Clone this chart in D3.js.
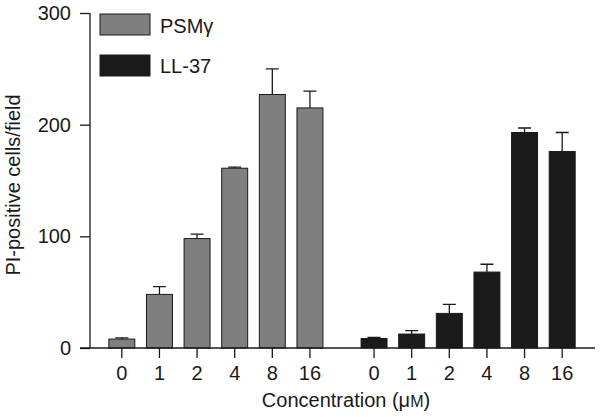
<!DOCTYPE html>
<meta charset="utf-8">
<html>
<head>
    <script src="https://cdn.jsdelivr.net/npm/d3@7"></script>
    <style>
        body { margin: 0; background: #fff; }
        text { font-family: "Liberation Sans", Arial, sans-serif; fill: #1a1a1a; }
    </style>
</head>
<body>
<div id="chart"></div>
<script>
    // data
    var concentrations = ["0", "1", "2", "4", "8", "16"];
    var peptides = ["PSMγ", "LL-37"];
    var psmMean = [8, 48, 98, 161, 227, 215];
    var psmErr = [1, 7, 4, 1, 23, 15];
    var llMean = [8.5, 12.5, 31, 68, 193, 176];
    var llErr = [1, 3, 8, 7, 4, 17];
    var yTicks = [0, 100, 200, 300];

    var colors = { "PSMγ": "#7f7f7f", "LL-37": "#1a1a1a" };
    var series = [
        { name: "PSMγ", mean: psmMean, err: psmErr },
        { name: "LL-37", mean: llMean, err: llErr }
    ];

    var width = 600, height = 417;
    var fontSize = 20;

    var svg = d3.select("#chart").append("svg")
        .attr("width", width)
        .attr("height", height);

    var y = d3.scaleLinear().domain([0, 300]).range([348, 13]);

    var x0 = d3.scaleBand().domain(peptides)
        .range([103, 581])
        .paddingInner(0.105);

    var x1 = d3.scaleBand().domain(concentrations)
        .range([0, x0.bandwidth()])
        .paddingInner(0.31)
        .paddingOuter(0.155);

    // bars + error bars
    series.forEach(function (s) {
        var g = svg.append("g")
            .attr("transform", "translate(" + x0(s.name) + ",0)");

        var rows = concentrations.map(function (c, i) {
            return { c: c, v: s.mean[i], e: s.err[i] };
        });

        // error bars (upper only)
        g.selectAll(".err")
            .data(rows)
            .enter().append("path")
            .attr("class", "err")
            .attr("fill", "none")
            .attr("stroke", "#1a1a1a")
            .attr("stroke-width", 1.3)
            .attr("d", function (d) {
                var cx = x1(d.c) + x1.bandwidth() / 2;
                var top = y(d.v + d.e);
                return "M" + cx + "," + y(d.v) + "V" + top +
                    "M" + (cx - 6.5) + "," + top + "H" + (cx + 6.5);
            });

        g.selectAll("rect")
            .data(rows)
            .enter().append("rect")
            .attr("x", function (d) { return x1(d.c); })
            .attr("width", x1.bandwidth())
            .attr("y", function (d) { return y(d.v); })
            .attr("height", function (d) { return y(0) - y(d.v); })
            .attr("fill", colors[s.name])
            .attr("stroke", "#1a1a1a")
            .attr("stroke-width", 1);
    });

    // y axis
    var yAxis = svg.append("g")
        .attr("transform", "translate(90,0)")
        .call(d3.axisLeft(y).tickValues(yTicks).tickSize(10).tickPadding(9));
    yAxis.select(".domain").attr("stroke", "#1a1a1a").attr("stroke-width", 1.3)
        .attr("d", "M0," + y(300) + "V" + y(0));
    yAxis.selectAll(".tick line").attr("stroke", "#1a1a1a").attr("stroke-width", 1.3);
    yAxis.selectAll(".tick text").attr("font-size", fontSize).attr("fill", "#1a1a1a")
        .attr("font-family", "Liberation Sans, Arial, sans-serif");

    // x axis baseline
    svg.append("line")
        .attr("x1", 80).attr("x2", 595)
        .attr("y1", y(0)).attr("y2", y(0))
        .attr("stroke", "#1a1a1a").attr("stroke-width", 1.3);

    // x ticks + labels per group
    peptides.forEach(function (p) {
        var g = svg.append("g")
            .attr("transform", "translate(" + x0(p) + "," + y(0) + ")");
        g.call(d3.axisBottom(x1).tickSize(10).tickPadding(8));
        g.select(".domain").remove();
        g.selectAll(".tick line").attr("stroke", "#1a1a1a").attr("stroke-width", 1.3);
        g.selectAll(".tick text").attr("font-size", fontSize).attr("fill", "#1a1a1a")
            .attr("font-family", "Liberation Sans, Arial, sans-serif");
    });

    // axis titles
    svg.append("text")
        .attr("transform", "translate(20,185) rotate(-90)")
        .attr("text-anchor", "middle")
        .attr("font-size", fontSize)
        .text("PI-positive cells/field");

    var xt = svg.append("text")
        .attr("x", 346)
        .attr("y", 407)
        .attr("text-anchor", "middle")
        .attr("font-size", fontSize);
    xt.append("tspan").text("Concentration (μ");
    xt.append("tspan").attr("font-size", 16).text("M");
    xt.append("tspan").text(")");

    // legend
    var legend = svg.append("g");
    peptides.forEach(function (p, i) {
        legend.append("rect")
            .attr("x", 100).attr("y", 14 + i * 41)
            .attr("width", 50).attr("height", 21)
            .attr("fill", colors[p])
            .attr("stroke", "#1a1a1a");
        legend.append("text")
            .attr("x", 160).attr("y", 33 + i * 40)
            .attr("font-size", fontSize)
            .text(p);
    });
</script>
</body>
</html>
